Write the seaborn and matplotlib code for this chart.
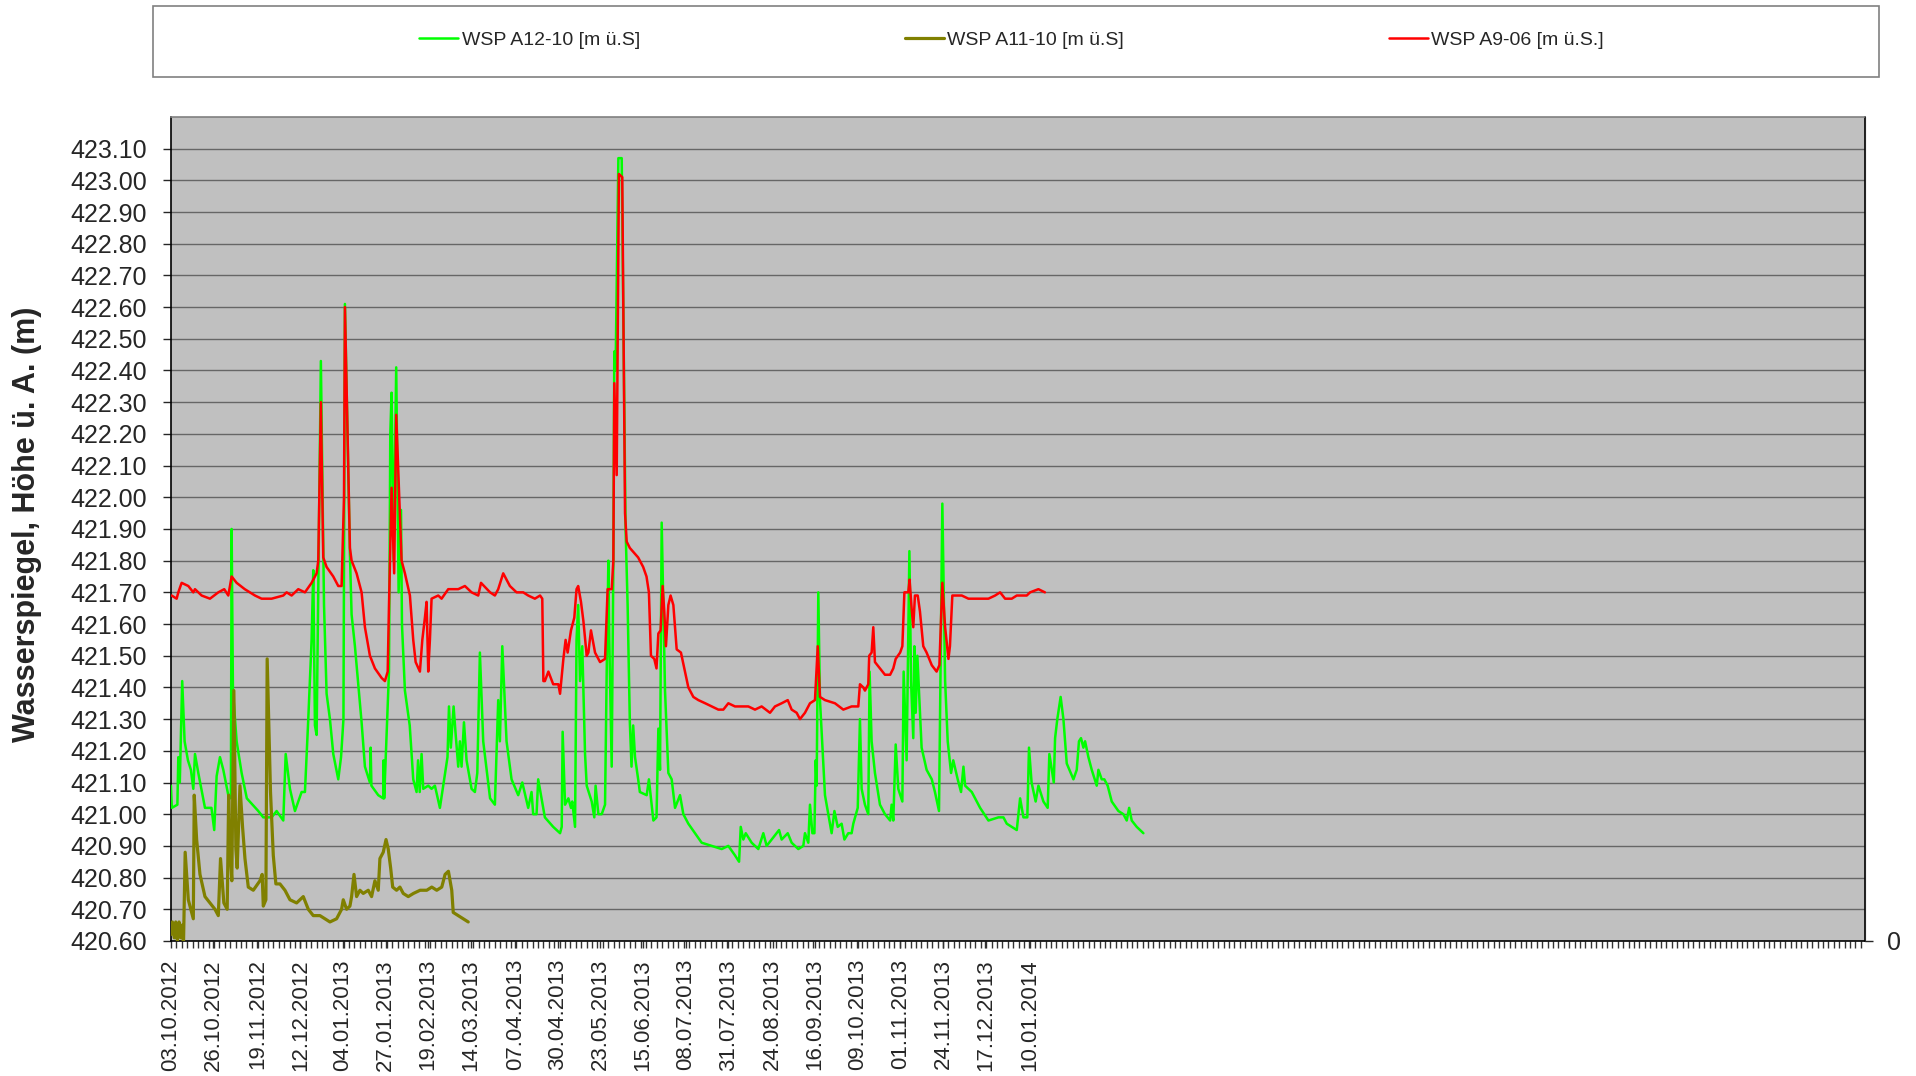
import pandas as pd
import matplotlib
matplotlib.use("Agg")
import matplotlib.pyplot as plt
from matplotlib.ticker import FixedLocator, MultipleLocator, FormatStrFormatter
from matplotlib.patches import Rectangle
import seaborn as sns

# Tage seit 03.10.2012 und Wasserspiegel [m]
start = pd.Timestamp("2012-10-03")

a12_days = [0.0, 0.5, 3.5, 4.0, 4.8, 6.1, 7.4, 9.2, 10.8, 12.1, 13.0, 14.8, 18.4, 21.9, 23.4,
            24.7, 26.5, 28.3, 31.0, 32.4, 32.8, 33.5, 35.5, 38.2, 41.0, 47.2, 49.9, 54.4, 57.1,
            60.7, 62.0, 64.3, 67.0, 70.6, 72.4, 74.2, 76.0, 76.9, 77.8, 78.7, 81.0, 82.7, 84.1,
            85.9, 87.7, 90.4, 91.9, 93.2, 94.0, 96.7, 97.6, 99.4, 103.0, 104.8, 107.5, 107.9,
            108.3, 112.0, 114.7, 114.9, 115.2, 117.8, 118.5, 119.2, 120.3, 121.7, 123.0, 124.3,
            124.8, 126.4, 129.0, 130.9, 132.7, 133.5, 134.4, 135.4, 136.3, 139.0, 140.8, 142.6,
            145.3, 147.1, 149.4, 150.2, 151.2, 152.7, 153.7, 155.2, 156.1, 157.0, 158.3, 159.7,
            162.4, 164.2, 165.5, 166.9, 168.7, 172.4, 175.0, 176.8, 177.7, 179.0, 180.1, 181.3,
            184.0, 187.6, 189.8, 193.0, 194.8, 195.7, 197.5, 198.4, 202.0, 206.5, 210.2, 211.1,
            211.6, 212.9, 214.7, 216.1, 216.8, 218.3, 219.1, 220.0, 221.0, 222.2, 223.7, 224.6,
            227.3, 228.7, 229.4, 230.9, 232.7, 234.5, 235.4, 236.3, 236.8, 238.1, 239.0, 239.5,
            240.2, 241.7, 243.5, 245.6, 246.7, 247.9, 248.8, 249.7, 250.7, 252.4, 253.3, 257.0,
            258.2, 259.3, 260.6, 262.3, 263.3, 264.2, 265.1, 266.9, 268.7, 270.5, 272.3, 275.0,
            276.8, 279.5, 283.1, 286.7, 292.1, 297.5, 301.1, 304.7, 306.9, 307.8, 309.2, 310.5,
            313.7, 317.3, 320.0, 321.8, 324.5, 328.5, 329.9, 333.2, 335.3, 338.9, 341.6, 342.5,
            344.3, 345.2, 346.5, 347.6, 348.3, 348.8, 349.4, 349.7, 350.6, 353.3, 355.1, 356.9,
            358.4, 360.2, 362.3, 363.8, 365.9, 367.7, 368.6, 371.0, 372.2, 373.1, 374.9, 376.7,
            377.4, 378.5, 380.3, 383.0, 385.7, 388.5, 389.3, 390.2, 391.5, 392.9, 395.1, 395.8,
            397.4, 398.9, 399.8, 401.0, 401.6, 402.3, 403.2, 405.5, 408.2, 411.0, 412.7, 414.9,
            416.7, 418.2, 419.6, 421.4, 422.6, 425.0, 426.8, 428.1, 429.0, 432.6, 437.1, 441.6,
            447.0, 449.7, 451.5, 456.9, 458.7, 460.5, 462.6, 463.5, 464.9, 467.1, 468.6, 471.3,
            473.6, 474.5, 476.9, 477.6, 478.8, 480.6, 482.1, 483.9, 487.5, 489.3, 490.5, 491.6,
            492.9, 493.8, 495.6, 497.4, 500.1, 501.0, 502.8, 504.2, 506.0, 508.2, 511.8, 514.5,
            516.3, 517.6, 519.0, 521.7, 525.3]
a12_level = [421.09, 421.02, 421.03, 421.18, 421.10, 421.42, 421.23, 421.17, 421.14, 421.08, 421.19,
             421.13, 421.02, 421.02, 420.95, 421.12, 421.18, 421.14, 421.06, 421.05, 421.90, 421.39,
             421.23, 421.13, 421.05, 421.01, 420.99, 420.99, 421.01, 420.98, 421.19, 421.08, 421.01,
             421.07, 421.07, 421.30, 421.55, 421.77, 421.28, 421.25, 422.43, 421.66, 421.38, 421.30,
             421.19, 421.11, 421.18, 421.30, 422.61, 421.82, 421.63, 421.53, 421.29, 421.15, 421.10,
             421.21, 421.09, 421.06, 421.05, 421.17, 421.05, 421.45, 422.20, 422.33, 421.80, 422.41,
             421.70, 421.96, 421.60, 421.39, 421.28, 421.11, 421.07, 421.17, 421.07, 421.19, 421.08,
             421.09, 421.08, 421.09, 421.02, 421.09, 421.18, 421.34, 421.21, 421.34, 421.26, 421.15,
             421.23, 421.15, 421.29, 421.17, 421.08, 421.07, 421.13, 421.51, 421.23, 421.05, 421.03,
             421.36, 421.23, 421.53, 421.39, 421.23, 421.11, 421.06, 421.10, 421.02, 421.07, 421.00,
             421.00, 421.11, 420.99, 420.96, 420.94, 420.96, 421.26, 421.03, 421.05, 421.02, 421.04,
             420.96, 421.55, 421.66, 421.42, 421.53, 421.19, 421.09, 421.04, 420.99, 421.09, 421.00,
             421.00, 421.03, 421.45, 421.80, 421.55, 421.15, 421.80, 422.46, 422.40, 423.07, 423.07,
             421.90, 421.66, 421.29, 421.15, 421.28, 421.18, 421.11, 421.07, 421.06, 421.11, 421.05,
             420.98, 420.99, 421.27, 421.14, 421.92, 421.39, 421.13, 421.11, 421.02, 421.06, 421.00,
             420.97, 420.94, 420.91, 420.90, 420.89, 420.90, 420.87, 420.85, 420.96, 420.92, 420.94,
             420.91, 420.89, 420.94, 420.90, 420.92, 420.95, 420.92, 420.94, 420.91, 420.89, 420.90,
             420.94, 420.91, 421.03, 420.94, 420.94, 421.17, 421.09, 421.52, 421.70, 421.36, 421.06,
             421.00, 420.94, 421.01, 420.96, 420.97, 420.92, 420.94, 420.94, 420.97, 421.02, 421.30,
             421.08, 421.03, 421.00, 421.45, 421.23, 421.13, 421.03, 421.00, 420.98, 421.03, 420.98,
             421.22, 421.08, 421.04, 421.45, 421.17, 421.83, 421.42, 421.24, 421.53, 421.32, 421.50,
             421.21, 421.14, 421.11, 421.07, 421.01, 421.98, 421.42, 421.23, 421.13, 421.17, 421.11,
             421.07, 421.15, 421.09, 421.07, 421.02, 420.98, 420.99, 420.99, 420.97, 420.95, 421.05,
             420.99, 420.99, 421.21, 421.10, 421.04, 421.09, 421.04, 421.02, 421.19, 421.10, 421.24,
             421.30, 421.37, 421.30, 421.16, 421.11, 421.14, 421.23, 421.24, 421.21, 421.23, 421.18,
             421.14, 421.09, 421.14, 421.11, 421.11, 421.09, 421.04, 421.01, 421.00, 420.98, 421.02,
             420.98, 420.96, 420.94]

a11_days = [0.0, 0.8, 1.8, 2.6, 3.5, 4.4, 5.3, 6.0, 6.8, 7.7, 9.4, 12.1, 12.6, 13.9, 15.7, 18.4,
            23.8, 25.6, 26.8, 28.6, 30.4, 31.2, 31.9, 32.9, 34.0, 35.1, 35.8, 37.3, 38.7, 40.0,
            41.8, 44.5, 48.1, 49.3, 49.9, 51.3, 52.0, 53.8, 55.3, 56.7, 58.9, 61.6, 64.3, 67.9,
            71.5, 74.2, 76.9, 80.5, 83.2, 85.9, 89.5, 92.2, 93.1, 94.9, 96.7, 97.6, 98.9, 100.3,
            102.1, 103.9, 106.6, 108.4, 110.2, 112.0, 112.9, 114.7, 116.2, 117.4, 118.7, 119.8,
            121.9, 123.7, 125.5, 128.2, 131.0, 134.6, 138.2, 140.9, 143.6, 146.3, 148.1, 149.9,
            150.8, 151.7, 152.5, 155.2, 157.9, 160.6]
a11_level = [420.62, 420.66, 420.61, 420.66, 420.60, 420.66, 420.61, 420.65, 420.59, 420.88, 420.73,
             420.67, 421.06, 420.92, 420.81, 420.74, 420.70, 420.68, 420.86, 420.72, 420.70, 421.06,
             420.89, 420.79, 421.39, 420.89, 420.83, 421.09, 420.96, 420.86, 420.77, 420.76, 420.79,
             420.81, 420.71, 420.73, 421.49, 421.07, 420.87, 420.78, 420.78, 420.76, 420.73, 420.72,
             420.74, 420.70, 420.68, 420.68, 420.67, 420.66, 420.67, 420.70, 420.73, 420.70, 420.71,
             420.74, 420.81, 420.74, 420.76, 420.75, 420.76, 420.74, 420.79, 420.76, 420.86, 420.88,
             420.92, 420.89, 420.83, 420.77, 420.76, 420.77, 420.75, 420.74, 420.75, 420.76, 420.76,
             420.77, 420.76, 420.77, 420.81, 420.82, 420.79, 420.76, 420.69, 420.68, 420.67, 420.66]

a9_days = [0.4, 3.1, 4.0, 5.8, 9.4, 12.1, 13.0, 16.6, 21.1, 25.6, 28.8, 31.0, 32.8, 35.5, 39.9,
           45.4, 49.0, 54.4, 60.7, 62.5, 65.2, 68.8, 72.4, 76.0, 78.7, 79.6, 81.0, 82.3, 84.1,
           87.7, 90.4, 92.2, 93.5, 94.0, 96.7, 97.6, 100.3, 103.0, 104.8, 105.7, 107.5, 110.2,
           113.8, 115.6, 117.1, 117.8, 119.2, 120.6, 121.7, 124.6, 126.4, 129.1, 130.9, 132.2,
           134.5, 135.8, 137.2, 138.1, 139.0, 139.9, 140.8, 144.4, 146.2, 149.8, 155.2, 158.8,
           162.4, 166.0, 167.5, 172.4, 175.0, 176.8, 179.5, 183.1, 186.7, 190.3, 193.0, 196.6,
           199.4, 200.6, 201.2, 202.0, 203.9, 206.5, 209.3, 210.2, 212.0, 213.2, 214.3, 216.1,
           217.9, 219.1, 220.0, 221.5, 222.8, 224.6, 225.5, 226.9, 229.1, 231.8, 234.5, 235.9,
           238.1, 239.0, 239.5, 240.8, 242.0, 243.8, 245.3, 246.2, 247.9, 252.4, 255.1, 256.9,
           258.2, 259.3, 261.1, 262.3, 263.3, 264.5, 265.6, 266.5, 267.4, 268.7, 269.9, 271.4,
           273.2, 275.5, 277.7, 279.5, 282.2, 284.9, 288.6, 292.1, 295.7, 298.4, 301.1, 304.7,
           308.3, 311.9, 315.5, 319.1, 323.6, 326.3, 329.9, 333.2, 335.3, 338.0, 339.8, 342.5,
           345.2, 347.9, 349.4, 350.6, 353.3, 358.7, 363.2, 367.7, 371.3, 372.2, 374.0, 374.9,
           376.7, 377.2, 378.5, 379.4, 380.3, 383.0, 385.7, 388.5, 390.2, 391.5, 393.9, 395.1,
           396.2, 398.3, 399.0, 400.1, 401.0, 401.9, 403.4, 404.6, 406.4, 408.2, 411.0, 413.6,
           415.1, 416.7, 418.2, 420.0, 420.8, 422.1, 427.2, 430.8, 436.2, 441.6, 445.2, 447.9,
           450.6, 454.2, 456.9, 459.6, 462.3, 464.1, 468.6, 472.1]
a9_level = [421.69, 421.68, 421.70, 421.73, 421.72, 421.70, 421.71, 421.69, 421.68, 421.70, 421.71,
            421.69, 421.75, 421.73, 421.71, 421.69, 421.68, 421.68, 421.69, 421.70, 421.69, 421.71,
            421.70, 421.73, 421.76, 421.80, 422.30, 421.81, 421.78, 421.75, 421.72, 421.72, 422.00,
            422.60, 421.84, 421.80, 421.76, 421.70, 421.59, 421.56, 421.50, 421.46, 421.43, 421.42,
            421.45, 421.66, 422.03, 421.76, 422.26, 421.80, 421.76, 421.69, 421.55, 421.48, 421.45,
            421.55, 421.62, 421.67, 421.45, 421.55, 421.68, 421.69, 421.68, 421.71, 421.71, 421.72,
            421.70, 421.69, 421.73, 421.70, 421.69, 421.71, 421.76, 421.72, 421.70, 421.70, 421.69,
            421.68, 421.69, 421.68, 421.42, 421.42, 421.45, 421.41, 421.41, 421.38, 421.49, 421.55,
            421.51, 421.58, 421.62, 421.71, 421.72, 421.67, 421.61, 421.50, 421.51, 421.58, 421.51,
            421.48, 421.49, 421.71, 421.71, 421.80, 422.36, 422.07, 423.02, 423.01, 421.95, 421.86,
            421.84, 421.81, 421.78, 421.75, 421.70, 421.50, 421.49, 421.46, 421.57, 421.58, 421.72,
            421.64, 421.53, 421.66, 421.69, 421.66, 421.52, 421.51, 421.45, 421.40, 421.37, 421.36,
            421.35, 421.34, 421.33, 421.33, 421.35, 421.34, 421.34, 421.34, 421.33, 421.34, 421.32,
            421.34, 421.35, 421.36, 421.33, 421.32, 421.30, 421.32, 421.35, 421.36, 421.53, 421.37,
            421.36, 421.35, 421.33, 421.34, 421.34, 421.41, 421.40, 421.39, 421.41, 421.50, 421.51,
            421.59, 421.48, 421.46, 421.44, 421.44, 421.46, 421.49, 421.51, 421.53, 421.70, 421.70,
            421.74, 421.65, 421.59, 421.69, 421.69, 421.64, 421.53, 421.51, 421.47, 421.45, 421.47,
            421.73, 421.59, 421.49, 421.53, 421.69, 421.69, 421.68, 421.68, 421.68, 421.69, 421.70,
            421.68, 421.68, 421.69, 421.69, 421.69, 421.70, 421.71, 421.70]

tick_labels = ["03.10.2012", "26.10.2012", "19.11.2012", "12.12.2012", "04.01.2013",
               "27.01.2013", "19.02.2013", "14.03.2013", "07.04.2013", "30.04.2013",
               "23.05.2013", "15.06.2013", "08.07.2013", "31.07.2013", "24.08.2013",
               "16.09.2013", "09.10.2013", "01.11.2013", "24.11.2013", "17.12.2013",
               "10.01.2014"]
y_ticks = [420.6 + 0.1 * i for i in range(26)]

names = ["WSP A12-10 [m ü.S]", "WSP A11-10 [m ü.S]", "WSP A9-06 [m ü.S.]"]
colors = ["#00FF00", "#808000", "#FF0000"]
widths = [1.8, 2.3, 1.8]

sns.set_style("white")
plt.rcParams['font.family'] = ['Liberation Sans', 'DejaVu Sans']

fig = plt.figure(figsize=(19.16, 10.76), dpi=100)
ax = fig.add_axes([0.0892, 0.1255, 0.8841, 0.7658])
ax.set_facecolor('#C0C0C0')

for name, days, vals, c, lw in zip(names, [a12_days, a11_days, a9_days],
                                   [a12_level, a11_level, a9_level], colors, widths):
    df = pd.DataFrame({'Tag': days, 'WSP': vals})
    sns.lineplot(data=df, x='Tag', y='WSP', color=c, lw=lw, estimator=None,
                 sort=False, ax=ax, label=name, zorder=3)

handles, labels = ax.get_legend_handles_labels()
ax.get_legend().remove()

ax.set_xlim(0, 915)
ax.set_ylim(420.6, 423.2)
ax.set_xlabel('')
ax.set_ylabel('')

tick_pos = [(pd.to_datetime(t, format='%d.%m.%Y') - start).days for t in tick_labels]
ax.xaxis.set_major_locator(FixedLocator(tick_pos))
ax.set_xticklabels(tick_labels, rotation=90, fontsize=16)
ax.xaxis.set_minor_locator(MultipleLocator(23.33 / 8))
ax.tick_params(axis='x', which='both', direction='out', length=5, width=1, color='#333333',
               bottom=True, pad=8)

ax.set_yticks(y_ticks)
ax.yaxis.set_major_formatter(FormatStrFormatter('%.2f'))
ax.tick_params(axis='y', labelsize=18, direction='out', length=6, width=1, left=True, pad=11)
ax.grid(axis='y', color='#666666', lw=1.0, zorder=1)
ax.set_axisbelow(True)

for side in ['left', 'bottom', 'right']:
    ax.spines[side].set_color('black')
    ax.spines[side].set_linewidth(1.2)
ax.spines['top'].set_color('#808080')
ax.spines['top'].set_linewidth(1.2)

ax2 = ax.twinx()
ax2.set_ylim(0, 1)
ax2.set_yticks([0])
ax2.tick_params(axis='y', labelsize=18, direction='out', length=6, width=1, pad=10)
for side in ['left', 'top', 'bottom']:
    ax2.spines[side].set_visible(False)

fig.text(27 / 1916, 0.513, 'Wasserspiegel, Höhe ü. A. (m)', rotation=90, ha='center',
         va='center', fontsize=22, fontweight='bold')

fig.patches.append(Rectangle((153 / 1916, 1 - 77 / 1076), 1726 / 1916, 71 / 1076,
                             transform=fig.transFigure, facecolor='white',
                             edgecolor='#808080', lw=1.2, zorder=0))
fig.legend(handles, labels, loc='center', bbox_to_anchor=(0.528, 0.9628), ncol=3,
           frameon=False, fontsize=14, handlelength=2.0, handletextpad=0.2,
           columnspacing=13.6)

fig.savefig('out.png', dpi=100)
